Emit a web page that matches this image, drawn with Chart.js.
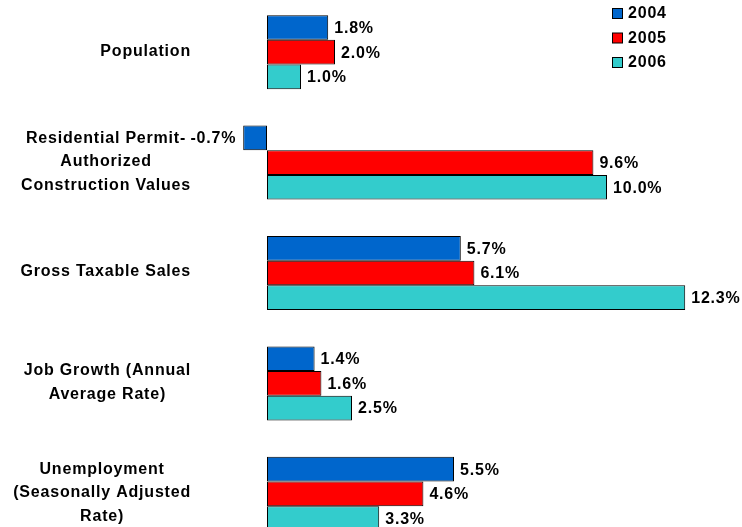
<!DOCTYPE html>
<html>
<head>
<meta charset="utf-8">
<script src="https://cdn.jsdelivr.net/npm/chart.js@4.4.1/dist/chart.umd.min.js"></script>
<style>
  html, body { margin: 0; padding: 0; background: #fff; overflow: hidden; }
  #wrap { position: relative; top: -3px; width: 742px; height: 552px; }
</style>
</head>
<body>
<div id="wrap"><canvas id="chart"></canvas></div>
<script>
/* ─── Data ─── */
const categories = [
  ['Population'],
  ['Residential Permit-', 'Authorized', 'Construction Values'],
  ['Gross Taxable Sales'],
  ['Job Growth (Annual', 'Average Rate)'],
  ['Unemployment', '(Seasonally Adjusted', 'Rate)']
];
const years = ['2004', '2005', '2006'];
const values2004 = [1.8, -0.7, 5.7, 1.4, 5.5];
const values2005 = [2.0, 9.6, 6.1, 1.6, 4.6];
const values2006 = [1.0, 10.0, 12.3, 2.5, 3.3];
const colors = ['#0066CC', '#FF0000', '#33CCCC'];

const FONT = 'bold 16px "Liberation Sans", Arial, sans-serif';
const SPACING = '0.8px';
const SHIFT = 3; // canvas is moved up by 3px

/* ─── Labels, values and legend ─── */
const textPlugin = {
  id: 'textPlugin',
  afterDatasetsDraw(chart) {
    const ctx = chart.ctx;
    ctx.save();
    ctx.font = FONT;
    ctx.letterSpacing = SPACING;
    ctx.fillStyle = '#000';
    ctx.textBaseline = 'middle';
    chart.data.datasets.forEach((ds, di) => {
      const meta = chart.getDatasetMeta(di);
      meta.data.forEach((bar, i) => {
        const v = ds.data[i];
        const txt = v.toFixed(1) + '%';
        if (v >= 0) {
          ctx.textAlign = 'left';
          ctx.fillText(txt, bar.x + 6, bar.y + 1);
        } else {
          ctx.textAlign = 'right';
          ctx.fillText(txt, bar.x - 7, bar.y + 1);
        }
      });
    });

    // category labels: block right-aligned, lines centred in block
    const yScale = chart.scales.y;
    const rightEdge = 191;
    const lineH = 23.5;
    categories.forEach((lines, i) => {
      const cy = yScale.getPixelForValue(i) - 1;
      const maxW = Math.max(...lines.map(l => ctx.measureText(l).width));
      const cx = rightEdge - maxW / 2;
      ctx.textAlign = 'center';
      lines.forEach((l, j) => {
        ctx.fillText(l, cx, cy + (j - (lines.length - 1) / 2) * lineH);
      });
    });

    // legend
    years.forEach((y, i) => {
      const ly = 13 + SHIFT + i * 24.5;
      ctx.fillStyle = colors[i];
      ctx.fillRect(612.5, ly - 4.5, 10, 10);
      ctx.strokeStyle = '#000';
      ctx.lineWidth = 1;
      ctx.strokeRect(612.5, ly - 4.5, 10, 10);
      ctx.fillStyle = '#000';
      ctx.textAlign = 'left';
      ctx.fillText(y, 628, ly + 1);
    });
    ctx.restore();
  }
};

/* ─── Chart ─── */
new Chart(document.getElementById('chart'), {
  type: 'bar',
  data: {
    labels: categories,
    datasets: [
      { label: years[0], data: values2004, backgroundColor: colors[0] },
      { label: years[1], data: values2005, backgroundColor: colors[1] },
      { label: years[2], data: values2006, backgroundColor: colors[2] }
    ].map(d => Object.assign(d, {
      borderColor: '#000',
      borderWidth: 1,
      borderSkipped: false,
      barPercentage: 1,
      categoryPercentage: 0.67
    }))
  },
  options: {
    indexAxis: 'y',
    responsive: true,
    maintainAspectRatio: false,
    animation: false,
    layout: { padding: { left: 233, right: 33, top: 0, bottom: 0 } },
    plugins: {
      legend: { display: false },
      tooltip: { enabled: false }
    },
    scales: {
      x: { type: 'linear', min: -1, max: 13, display: false },
      y: { type: 'category', display: false }
    }
  },
  plugins: [textPlugin]
});
</script>
</body>
</html>
